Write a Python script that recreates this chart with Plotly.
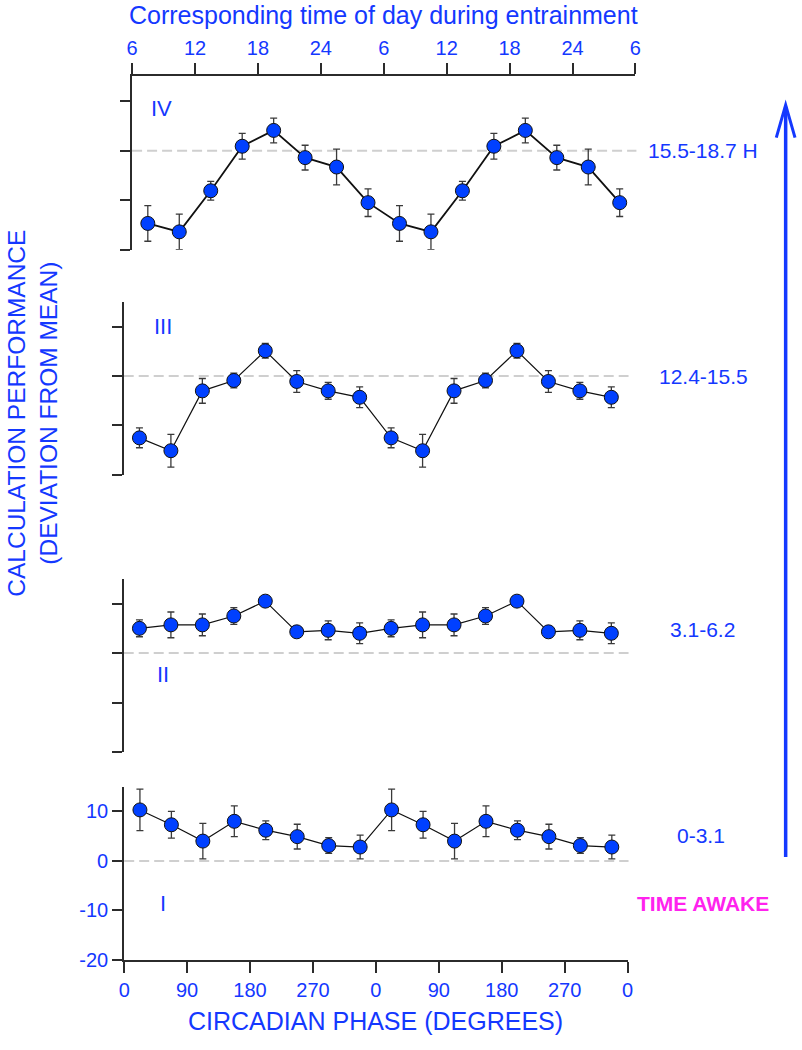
import plotly.graph_objects as go

# ---------------- data ----------------
phase_deg = [22.5, 67.5, 112.5, 157.5, 202.5, 247.5, 292.5, 337.5,
             382.5, 427.5, 472.5, 517.5, 562.5, 607.5, 652.5, 697.5]

phase_tickvals = [0, 90, 180, 270, 360, 450, 540, 630, 720]
phase_ticktext = ["0", "90", "180", "270", "0", "90", "180", "270", "0"]
clock_ticktext = ["6", "12", "18", "24", "6", "12", "18", "24", "6"]

y_tickvals = [-20, -10, 0, 10]
y_ticktext = ["-20", "-10", "0", "10"]

# Panel I : 0-3.1 h awake
perf_I = [10.3, 7.3, 4.0, 8.0, 6.2, 4.9, 3.1, 2.8,
          10.3, 7.3, 4.0, 8.0, 6.2, 4.9, 3.1, 2.8]
err_I = [4.2, 2.7, 3.6, 3.1, 1.9, 2.5, 1.6, 2.4,
         4.2, 2.7, 3.6, 3.1, 1.9, 2.5, 1.6, 2.4]

# Panel II : 3.1-6.2 h awake
perf_II = [5.0, 5.7, 5.7, 7.5, 10.5, 4.3, 4.6, 4.0,
           5.0, 5.7, 5.7, 7.5, 10.5, 4.3, 4.6, 4.0]
err_II = [1.7, 2.6, 2.2, 1.7, 0.8, 0.5, 1.9, 2.1,
          1.7, 2.6, 2.2, 1.7, 0.8, 0.5, 1.9, 2.1]

# Panel III : 12.4-15.5 h awake
perf_III = [-12.5, -15.1, -3.0, -0.9, 5.1, -1.1, -3.0, -4.3,
            -12.5, -15.1, -3.0, -0.9, 5.1, -1.1, -3.0, -4.3]
err_III = [2.0, 3.3, 2.5, 1.5, 1.5, 2.2, 1.7, 2.1,
           2.0, 3.3, 2.5, 1.5, 1.5, 2.2, 1.7, 2.1]

# Panel IV : 15.5-18.7 h awake
perf_IV = [-14.7, -16.4, -8.1, 0.9, 4.1, -1.4, -3.3, -10.5,
           -14.7, -16.4, -8.1, 0.9, 4.1, -1.4, -3.3, -10.5]
err_IV = [3.6, 3.6, 1.9, 2.6, 2.5, 2.5, 3.6, 2.8,
          3.6, 3.6, 1.9, 2.6, 2.5, 2.5, 3.6, 2.8]

panel_numerals = ["I", "II", "III", "IV"]
panel_ranges = ["0-3.1", "3.1-6.2", "12.4-15.5", "15.5-18.7 H"]

# ---------------- styling ----------------
W, H = 802, 1050
BLUE_TXT = "#1438ff"
BLUE_MK = "#0040ff"
AX = "#2b2b2b"
FONT = "Liberation Sans, Arial, sans-serif"


def px(x):
    """pixel x -> paper fraction"""
    return x / W


def py(y):
    """pixel y -> paper fraction"""
    return 1 - y / H


# panel boxes in pixels (left, right, top, bottom)
boxes = {
    1: (120, 631, 795, 970),
    2: (119.5, 630.5, 585, 760),
    3: (119.5, 630.5, 305, 480),
    4: (128, 639, 77.3, 252.3),
}
dash_end = {1: 632, 2: 632, 3: 632, 4: 640}
numeral_pos = {1: (159.5, 913), 2: (159.5, 682), 3: (159, 330), 4: (158, 110)}
range_label_pos = {1: (706, 844), 2: (707.5, 636), 3: (708, 380), 4: (708, 152)}

series = {1: (perf_I, err_I), 2: (perf_II, err_II),
          3: (perf_III, err_III), 4: (perf_IV, err_IV)}

fig = go.Figure()

for k in (1, 2, 3, 4):
    vals, errs = series[k]
    xa = "x" if k == 1 else f"x{k}"
    ya = "y" if k == 1 else f"y{k}"
    fig.add_trace(go.Scatter(
        x=phase_deg, y=vals, xaxis=xa, yaxis=ya,
        mode="lines+markers",
        line=dict(color="#111111", width=1.8 if k == 4 else 1.2),
        marker=dict(size=14, color=BLUE_MK, line=dict(color="#111111", width=1)),
        error_y=dict(type="data", array=errs, visible=True,
                     color="#3a3a3a", thickness=1.3, width=3.5),
        cliponaxis=False,
        showlegend=False,
    ))

layout = dict(
    width=W, height=H,
    margin=dict(l=0, r=0, t=0, b=0),
    paper_bgcolor="white", plot_bgcolor="white",
    font=dict(family=FONT, color=BLUE_TXT, size=20),
    showlegend=False,
)

for k in (1, 2, 3, 4):
    l, r, t, b = boxes[k]
    xkey = "xaxis" if k == 1 else f"xaxis{k}"
    ykey = "yaxis" if k == 1 else f"yaxis{k}"
    ya_ref = "y" if k == 1 else f"y{k}"
    xa_ref = "x" if k == 1 else f"x{k}"
    xaxis = dict(domain=[px(l), px(r)], range=[0, 720], anchor=ya_ref,
                 showgrid=False, zeroline=False, fixedrange=True)
    if k == 1:
        xaxis.update(showline=True, linecolor=AX, linewidth=2,
                     ticks="outside", ticklen=11, tickwidth=2, tickcolor=AX,
                     tickvals=phase_tickvals, ticktext=phase_ticktext,
                     tickfont=dict(size=20, color=BLUE_TXT))
    elif k == 4:
        xaxis.update(side="top", showline=True, linecolor=AX, linewidth=2,
                     ticks="outside", ticklen=11, tickwidth=2, tickcolor=AX,
                     tickvals=phase_tickvals, ticktext=clock_ticktext,
                     tickfont=dict(size=20, color=BLUE_TXT))
    else:
        xaxis.update(showline=False, showticklabels=False, ticks="")
    yaxis = dict(domain=[py(b), py(t)], range=[-20, 15], anchor=xa_ref,
                 showgrid=False, zeroline=False, fixedrange=True,
                 showline=True, linecolor=AX, linewidth=2,
                 ticks="outside", ticklen=10, tickwidth=2, tickcolor=AX,
                 tickvals=y_tickvals, ticktext=y_ticktext,
                 showticklabels=(k == 1),
                 tickfont=dict(size=20, color=BLUE_TXT))
    layout[xkey] = xaxis
    layout[ykey] = yaxis

fig.update_layout(**layout)

shapes = []
annotations = []
for k in (1, 2, 3, 4):
    l, r, t, b = boxes[k]
    ya_ref = "y" if k == 1 else f"y{k}"
    # zero reference line
    shapes.append(dict(type="line", xref="paper", yref=ya_ref,
                       x0=px(l), x1=px(dash_end[k]), y0=0, y1=0,
                       line=dict(color="#cfcfcf", width=2, dash="10px,5px"),
                       layer="below"))
    nx, ny = numeral_pos[k]
    annotations.append(dict(text=panel_numerals[k - 1], xref="paper", yref="paper",
                            x=px(nx), y=py(ny), xanchor="center", yanchor="middle",
                            showarrow=False, font=dict(size=22, color=BLUE_TXT)))
    rx, ry = range_label_pos[k]
    annotations.append(dict(text=panel_ranges[k - 1], xref="paper", yref="paper",
                            x=px(rx), y=py(ry), xanchor="center", yanchor="middle",
                            showarrow=False, font=dict(size=21, color=BLUE_TXT)))

# time-awake arrow
shapes.append(dict(type="line", xref="paper", yref="paper",
                   x0=px(791.5), x1=px(791.5), y0=py(866), y1=py(108),
                   line=dict(color=BLUE_TXT, width=3.5)))
shapes.append(dict(type="path", xref="paper", yref="paper",
                   path=f"M {px(782)},{py(139)} L {px(791.5)},{py(106)} L {px(801)},{py(139)}",
                   line=dict(color=BLUE_TXT, width=3)))

annotations += [
    dict(text="<b>TIME AWAKE</b>", xref="paper", yref="paper", x=px(708), y=py(913),
         xanchor="center", yanchor="middle", showarrow=False,
         font=dict(size=21, color="#ff22ee")),
    dict(text="Corresponding time of day during entrainment", xref="paper", yref="paper",
         x=px(383.5), y=py(15), xanchor="center", yanchor="middle", showarrow=False,
         font=dict(size=25, color=BLUE_TXT)),
    dict(text="CIRCADIAN PHASE (DEGREES)", xref="paper", yref="paper",
         x=px(375.5), y=py(1032), xanchor="center", yanchor="middle", showarrow=False,
         font=dict(size=25, color=BLUE_TXT)),
    dict(text="CALCULATION PERFORMANCE<br>(DEVIATION FROM MEAN)", xref="paper", yref="paper",
         x=px(27.5), y=py(418), xanchor="center", yanchor="middle", showarrow=False,
         textangle=-90, font=dict(size=24.5, color=BLUE_TXT)),
]

fig.update_layout(shapes=shapes, annotations=annotations)

# the page itself adds no margin around the figure
fig.write_html(
    "out.html",
    config={"displayModeBar": False},
    post_script="document.body.style.margin='0';document.body.style.overflow='hidden';",
)
